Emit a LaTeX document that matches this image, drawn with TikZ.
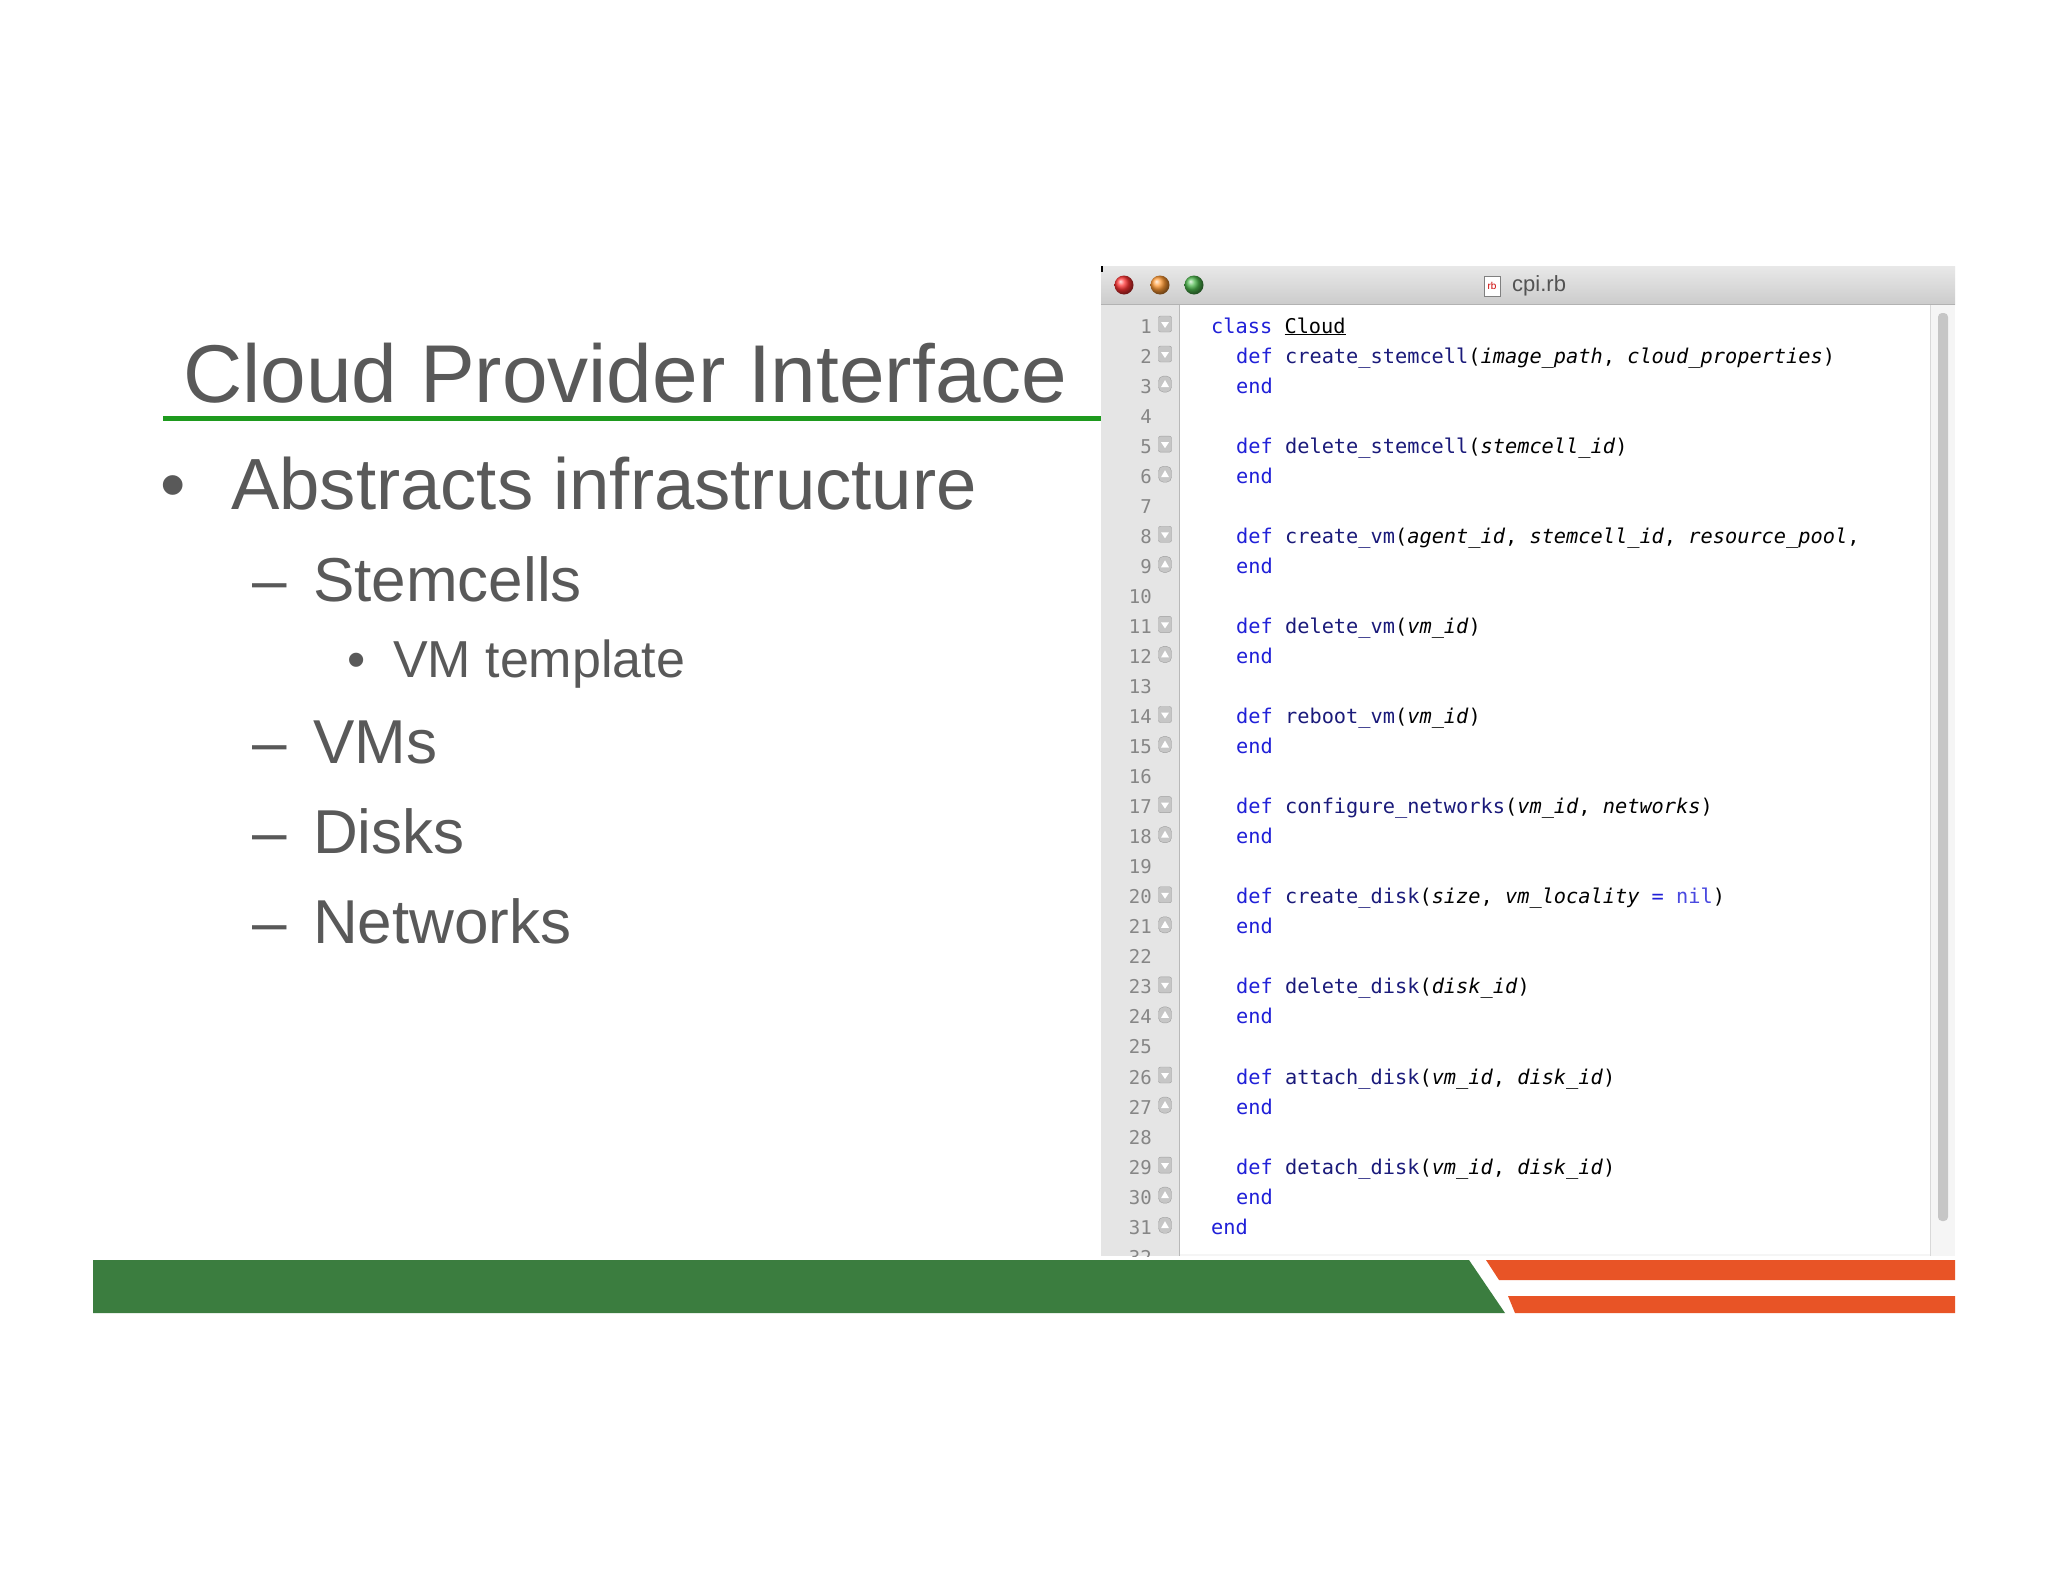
\documentclass[tikz,border=0pt]{standalone}
\usepackage{fontspec}
\setmainfont{Liberation Sans}
\newfontfamily\codefont{DejaVu Sans Mono}
\definecolor{txt}{HTML}{595959}
\definecolor{kwc}{HTML}{2020D8}
\definecolor{fnc}{HTML}{1A1A7A}
\definecolor{nilc}{HTML}{4A4AE0}
\definecolor{gbar}{HTML}{3B7D3F}
\definecolor{obar}{HTML}{E85426}
\definecolor{uline}{HTML}{1E9A1E}
\newcommand{\kw}[1]{\textcolor{kwc}{#1}}
\newcommand{\fn}[1]{\textcolor{fnc}{#1}}
\newcommand{\ar}[1]{\textit{#1}}
\begin{document}
\begin{tikzpicture}[x=1pt,y=-1pt,
  codeline/.style={anchor=base west,inner sep=0pt,font=\codefont\fontsize{20.3}{20.3}\selectfont},
  lnum/.style={anchor=base east,inner sep=0pt,text=gray!95,font=\codefont\fontsize{19}{19}\selectfont},
  fold/.style={draw=gray!75,fill=gray!45,rounded corners=2pt,minimum width=13pt,minimum height=16pt,inner sep=0pt},
  slide/.style={anchor=base west,inner sep=0pt,text=txt}]
\useasboundingbox (0,0) rectangle (2048,1582);
\fill[white] (0,0) rectangle (2048,1582);
% title
\node[slide,font=\fontsize{82}{82}\selectfont] (title) at (183,402) {Cloud Provider Interface};
\draw[uline,line width=5pt] (163,418) -- (1101,418);
\node[slide,font=\fontsize{72.5}{72.5}\selectfont] (b1) at (160,509) {•};
\node[slide,font=\fontsize{72.5}{72.5}\selectfont] (t1) at (231,509) {Abstracts infrastructure};
\foreach \y/\t/\n in {601/Stemcells/s1,763/VMs/s2,853/Disks/s3,943/Networks/s4}{
  \node[slide,font=\fontsize{62}{62}\selectfont] (d\n) at (252,\y) {–};
  \node[slide,font=\fontsize{62}{62}\selectfont] (\n) at (313,\y) {\t};
}
\node[slide,font=\fontsize{52}{52}\selectfont] (b2) at (347,677) {•};
\node[slide,font=\fontsize{52}{52}\selectfont] (t2) at (393,677) {VM template};
% window
\fill[gray!8] (1101,304) rectangle (1955,1256);
\fill[gray!20] (1101,304) rectangle (1179,1256);
\draw[gray!55] (1179,304) -- (1179,1256);
\fill[white] (1180,305) rectangle (1930,1254);
\draw[gray!30] (1930,304) -- (1930,1256);
\fill[gray!45,rounded corners=4pt] (1938,313) rectangle (1948,1221);
\shade[top color=gray!18,bottom color=gray!40] (1101,266) rectangle (1955,304);
\draw[gray!60] (1101,304) -- (1955,304);
\draw[black,line width=2pt] (1102,266) -- (1102,272);
\foreach \x/\c in {1124/red!80,1160/orange!80,1194/green!60!black!70}{
  \shade[ball color=\c] (\x,285) circle (9.5);
}
\node[draw=gray,fill=white,minimum width=16pt,minimum height=20pt,inner sep=0pt,font=\fontsize{10}{10}\selectfont\color{red!80!black}] (icon) at (1492,286) {rb};
\node[anchor=west,inner sep=0pt,text=gray!20!black!75,font=\fontsize{22}{22}\selectfont] (fname) at (1512,286) {cpi.rb};
% line numbers
\begin{scope}
\clip (1101,304) rectangle (1955,1256);
\foreach \n in {1,...,32}{
  \node[lnum] (ln\n) at (1152,{333+(\n-1)*30.04}) {\n};
}
\foreach \n in {1,2,5,8,11,14,17,20,23,26,29}{
  \node[fold] (f\n) at (1165,{324+(\n-1)*30.04}) {};
  \fill[white] ([shift={(-4,-2)}]f\n.center) -- ([shift={(4,-2)}]f\n.center) -- ([shift={(0,4)}]f\n.center) -- cycle;
}
\foreach \n in {3,6,9,12,15,18,21,24,27,30,31}{
  \node[fold,rounded corners=5pt] (f\n) at (1165,{324+(\n-1)*30.04}) {};
  \fill[white] ([shift={(-4,3)}]f\n.center) -- ([shift={(4,3)}]f\n.center) -- ([shift={(0,-4)}]f\n.center) -- cycle;
}
\end{scope}
% code
\node[codeline] (c1) at (1211,333) {\kw{class} \underline{Cloud}};
\foreach \n/\t in {
 2/{\kw{def} \fn{create\_stemcell}(\ar{image\_path}, \ar{cloud\_properties})},
 5/{\kw{def} \fn{delete\_stemcell}(\ar{stemcell\_id})},
 8/{\kw{def} \fn{create\_vm}(\ar{agent\_id}, \ar{stemcell\_id}, \ar{resource\_pool},},
 11/{\kw{def} \fn{delete\_vm}(\ar{vm\_id})},
 14/{\kw{def} \fn{reboot\_vm}(\ar{vm\_id})},
 17/{\kw{def} \fn{configure\_networks}(\ar{vm\_id}, \ar{networks})},
 20/{\kw{def} \fn{create\_disk}(\ar{size}, \ar{vm\_locality} \kw{=} \textcolor{nilc}{nil})},
 23/{\kw{def} \fn{delete\_disk}(\ar{disk\_id})},
 26/{\kw{def} \fn{attach\_disk}(\ar{vm\_id}, \ar{disk\_id})},
 29/{\kw{def} \fn{detach\_disk}(\ar{vm\_id}, \ar{disk\_id})}}{
  \node[codeline] (c\n) at (1236,{333+(\n-1)*30.04}) {\t};
}
\foreach \n in {3,6,9,12,15,18,21,24,27,30}{
  \node[codeline] (c\n) at (1236,{333+(\n-1)*30.04}) {\kw{end}};
}
\node[codeline] (c31) at (1211,{333+30*30.04}) {\kw{end}};
% bottom bar
\fill[gbar] (93,1260) -- (1469,1260) -- (1505,1313) -- (93,1313) -- cycle;
\fill[obar] (1486,1260) -- (1955,1260) -- (1955,1280) -- (1499,1280) -- cycle;
\fill[obar] (1508,1296) -- (1955,1296) -- (1955,1313) -- (1515,1313) -- cycle;
\end{tikzpicture}
\end{document}
